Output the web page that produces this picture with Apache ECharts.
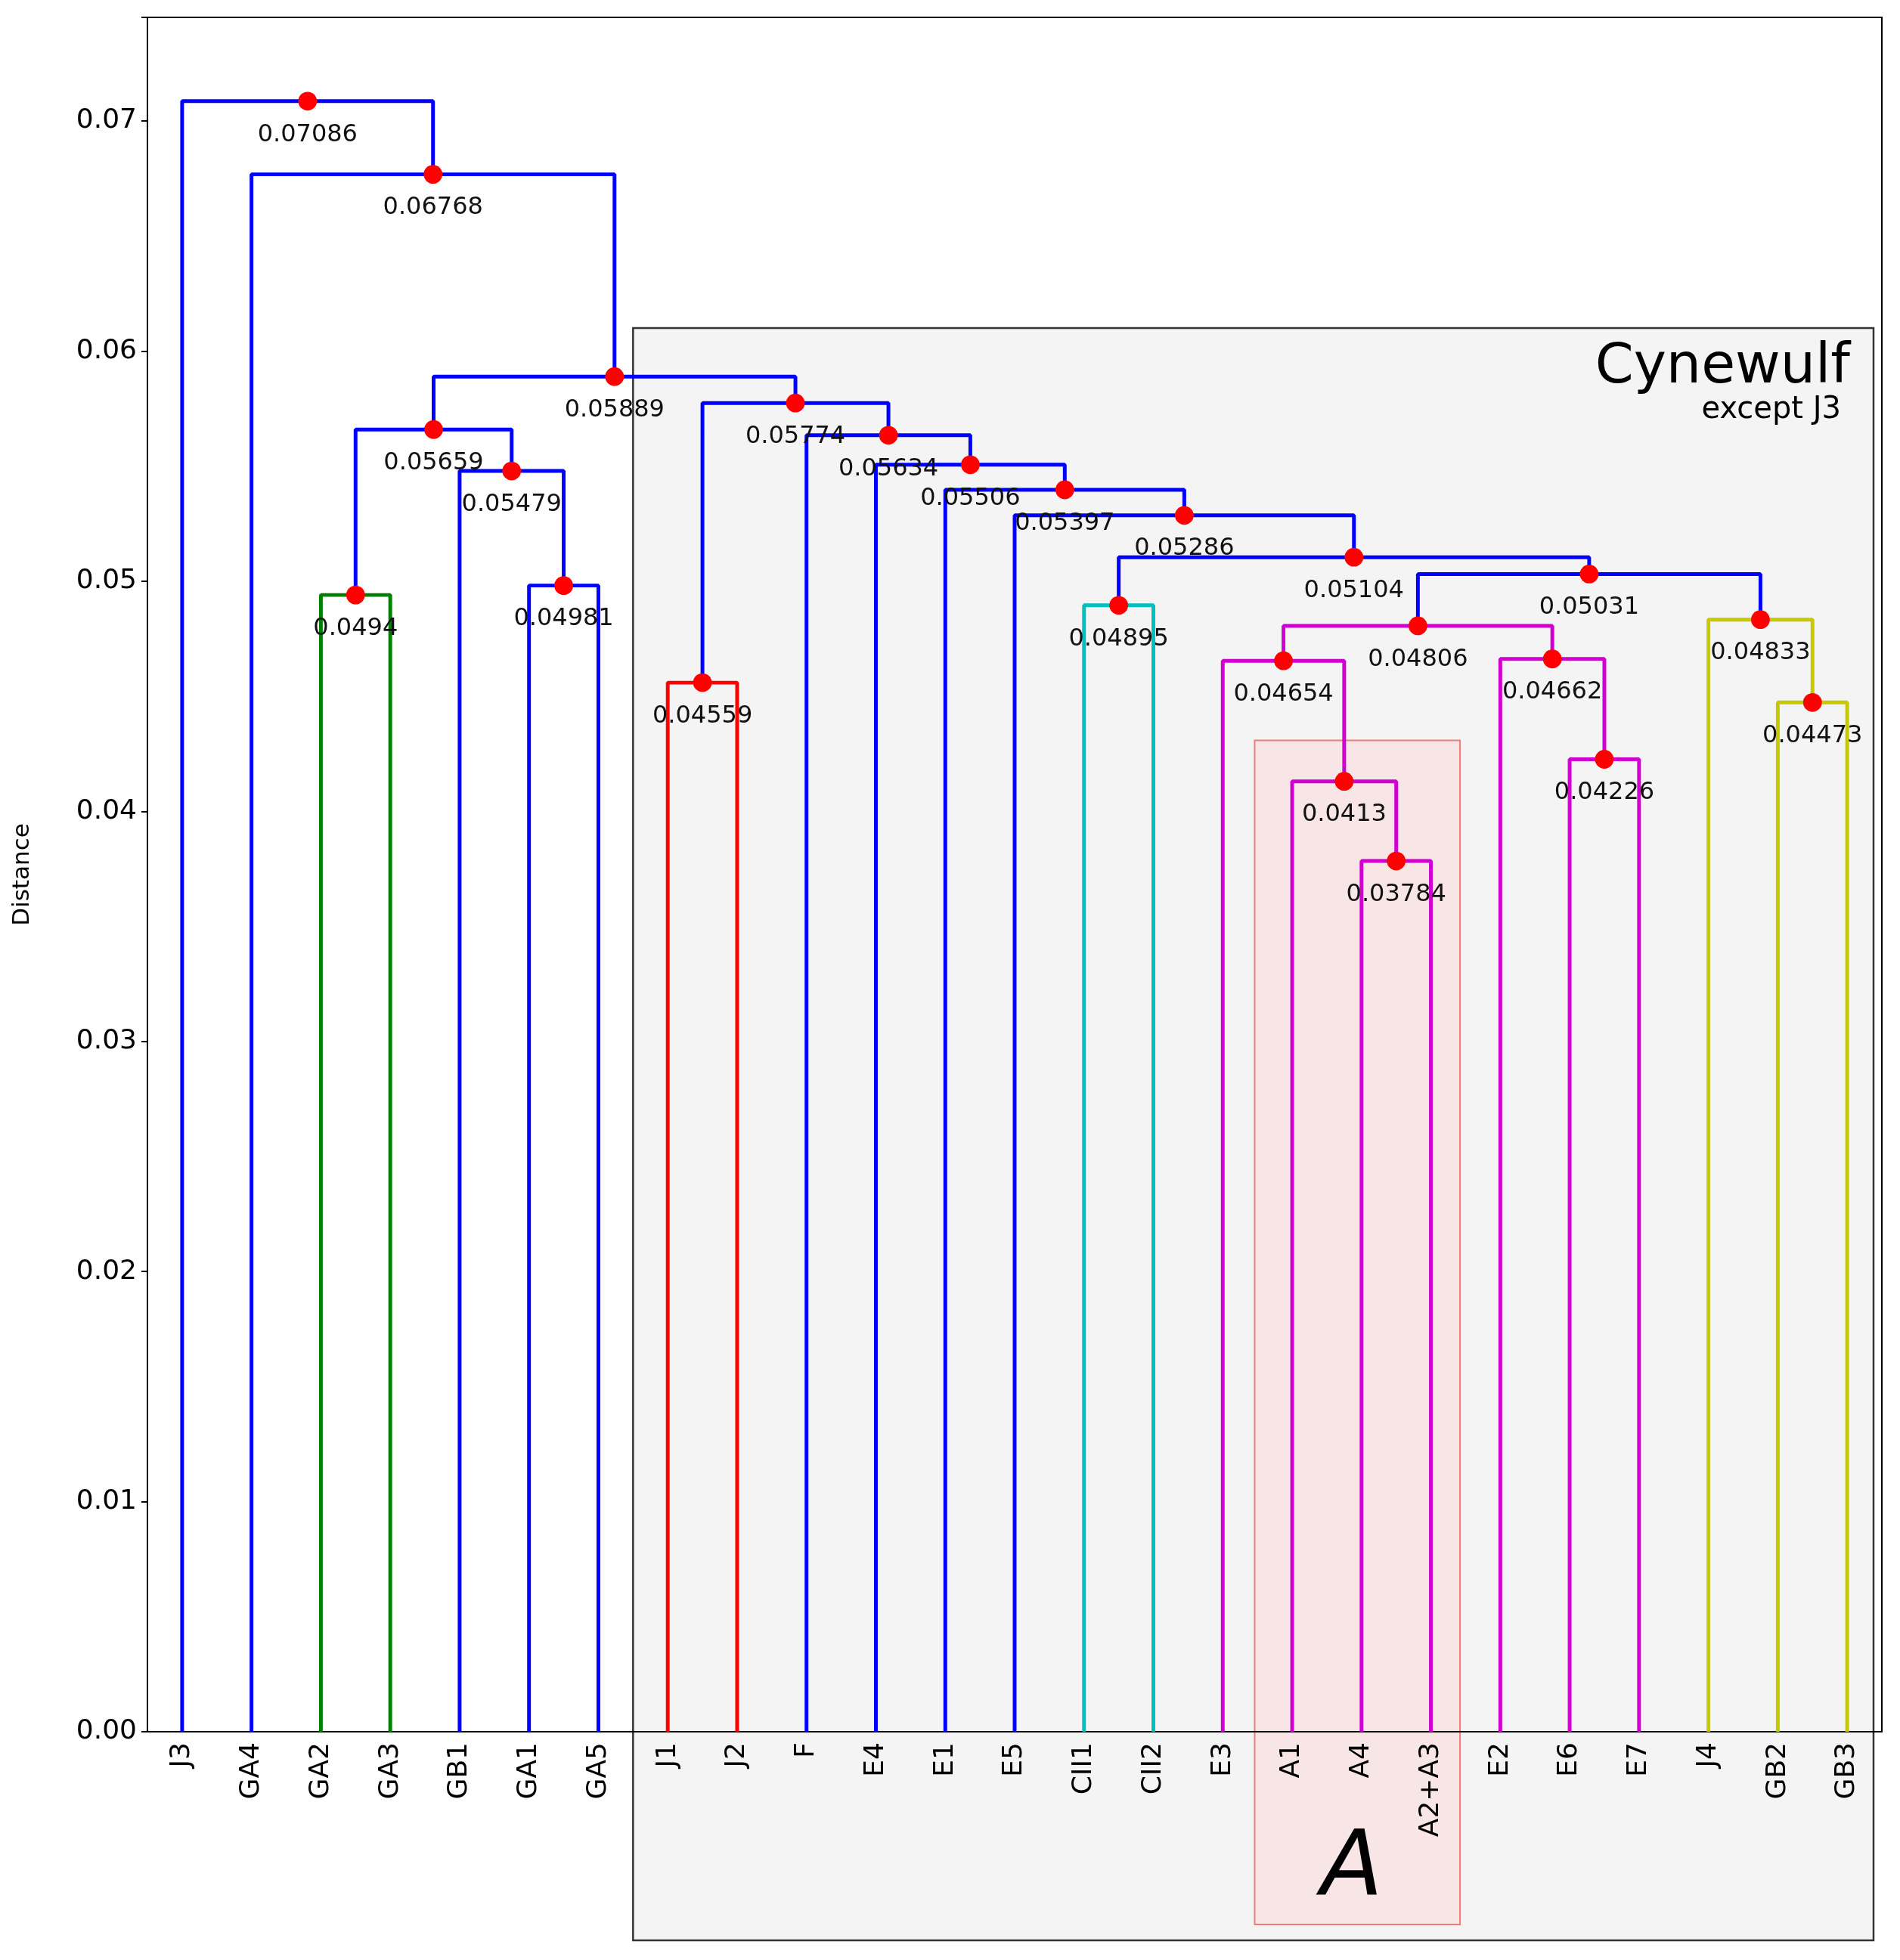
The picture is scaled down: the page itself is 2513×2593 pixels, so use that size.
<!DOCTYPE html>
<html>
<head>
<meta charset="utf-8">
<script src="https://cdn.jsdelivr.net/npm/echarts/dist/echarts.min.js"></script>
<style>html,body{margin:0;background:#fff}#c{width:2513px;height:2593px}</style>
</head>
<body>
<div id="c"></div>
<script>
// leaves in dendrogram order
const leaves = ['J3','GA4','GA2','GA3','GB1','GA1','GA5','J1','J2','F','E4','E1','E5','CII1','CII2','E3','A1','A4','A2+A3','E2','E6','E7','J4','GB2','GB3'];
// merges: [left child, right child, height, colour key]; children < 25 are leaves, else cluster 25+k
const merges = [
  [17, 18, 0.03784, 'm'],
  [16, 25, 0.0413, 'm'],
  [15, 26, 0.04654, 'm'],
  [20, 21, 0.04226, 'm'],
  [19, 28, 0.04662, 'm'],
  [27, 29, 0.04806, 'm'],
  [23, 24, 0.04473, 'y'],
  [22, 31, 0.04833, 'y'],
  [30, 32, 0.05031, 'b'],
  [13, 14, 0.04895, 'c'],
  [34, 33, 0.05104, 'b'],
  [12, 35, 0.05286, 'b'],
  [11, 36, 0.05397, 'b'],
  [10, 37, 0.05506, 'b'],
  [9, 38, 0.05634, 'b'],
  [7, 8, 0.04559, 'r'],
  [40, 39, 0.05774, 'b'],
  [2, 3, 0.0494, 'g'],
  [5, 6, 0.04981, 'b'],
  [4, 43, 0.05479, 'b'],
  [42, 44, 0.05659, 'b'],
  [45, 41, 0.05889, 'b'],
  [1, 46, 0.06768, 'b'],
  [0, 47, 0.07086, 'b']
];
const yTicks = [0, 0.01, 0.02, 0.03, 0.04, 0.05, 0.06, 0.07];

const colors = { b: '#0000ff', g: '#008000', r: '#ff0000', c: '#00bfbf', m: '#d000d0', y: '#c8c800' };
const S = 1.653;

// node positions
const nodes = leaves.map((n, i) => ({ x: 5 + 10 * i, h: 0 }));
merges.forEach(m => {
  const a = nodes[m[0]], b = nodes[m[1]];
  nodes.push({ x: (a.x + b.x) / 2, h: m[2] });
});

const series = merges.map((m, k) => {
  const a = nodes[m[0]], b = nodes[m[1]];
  return {
    type: 'line', xAxisIndex: 1, symbol: 'none', silent: true, z: 3,
    lineStyle: { color: colors[m[3]], width: 3 * S },
    data: [[a.x, a.h], [a.x, m[2]], [b.x, m[2]], [b.x, b.h]]
  };
});
series.push({
  type: 'scatter', xAxisIndex: 1, symbolSize: 15 * S, z: 5,
  itemStyle: { color: '#ff0000', opacity: 1 },
  label: {
    show: true, position: 'bottom', distance: 16,
    fontSize: 32, color: '#111', fontFamily: 'DejaVu Sans',
    formatter: p => String(p.value[1])
  },
  data: merges.map((m, k) => [nodes[25 + k].x, m[2]])
});

const chart = echarts.init(document.getElementById('c'));
chart.setOption({
  animation: false,
  grid: { left: 195, right: 24, top: 23, bottom: 302, show: true, borderColor: '#000', borderWidth: 2 },
  xAxis: [
    {
      type: 'category', data: leaves, boundaryGap: true,
      axisLine: { lineStyle: { color: '#000', width: 2 } },
      axisTick: { alignWithLabel: true, length: 8, lineStyle: { color: '#000', width: 2 } },
      axisLabel: { rotate: 90, fontSize: 36, color: '#000', fontFamily: 'DejaVu Sans', margin: 14 }
    },
    { type: 'value', min: 0, max: 250, show: false }
  ],
  yAxis: {
    type: 'value', min: 0, max: 0.0745, interval: 0.01,
    name: 'Distance', nameLocation: 'middle', nameGap: 150, nameRotate: 90,
    nameTextStyle: { fontSize: 31, color: '#000', fontFamily: 'DejaVu Sans' },
    splitLine: { show: false },
    axisLine: { show: true, lineStyle: { color: '#000', width: 2 } },
    axisTick: { show: true, length: 8, lineStyle: { color: '#000', width: 2 } },
    axisLabel: {
      fontSize: 36, color: '#000', fontFamily: 'DejaVu Sans', margin: 14,
      formatter: v => yTicks.some(t => Math.abs(t - v) < 1e-9) ? v.toFixed(2) : ''
    }
  },
  series: series
});

const px = v => chart.convertToPixel({ xAxisIndex: 1 }, v);
const py = v => chart.convertToPixel({ yAxisIndex: 0 }, v);
const bx0 = px(70), bx1 = px(248.8), by0 = py(0.0610);
const ax0 = px(159.6), ax1 = px(189.2), ay0 = py(0.04308);
chart.setOption({
  graphic: [
    { type: 'rect', z: -10, silent: true, shape: { x: bx0, y: by0, width: bx1 - bx0, height: 2567 - by0 },
      style: { fill: '#f4f4f4', stroke: '#333', lineWidth: 2.5 } },
    { type: 'rect', z: -9, silent: true, shape: { x: ax0, y: ay0, width: ax1 - ax0, height: 2546 - ay0 },
      style: { fill: '#f8e6e6', stroke: '#f07a7a', lineWidth: 2 } },
    { type: 'text', z: 10, silent: true, style: { x: 2447, y: 487, text: 'Cynewulf', fill: '#000', font: '73px "DejaVu Sans"', textAlign: 'right', textVerticalAlign: 'middle' } },
    { type: 'text', z: 10, silent: true, style: { x: 2435, y: 543, text: 'except J3', fill: '#000', font: '40px "DejaVu Sans"', textAlign: 'right', textVerticalAlign: 'middle' } },
    { type: 'text', z: 10, silent: true, style: { x: 1788, y: 2475, text: 'A', fill: '#000', font: 'italic 120px "DejaVu Sans"', textAlign: 'center', textVerticalAlign: 'middle' } }
  ]
});
</script>
</body>
</html>
